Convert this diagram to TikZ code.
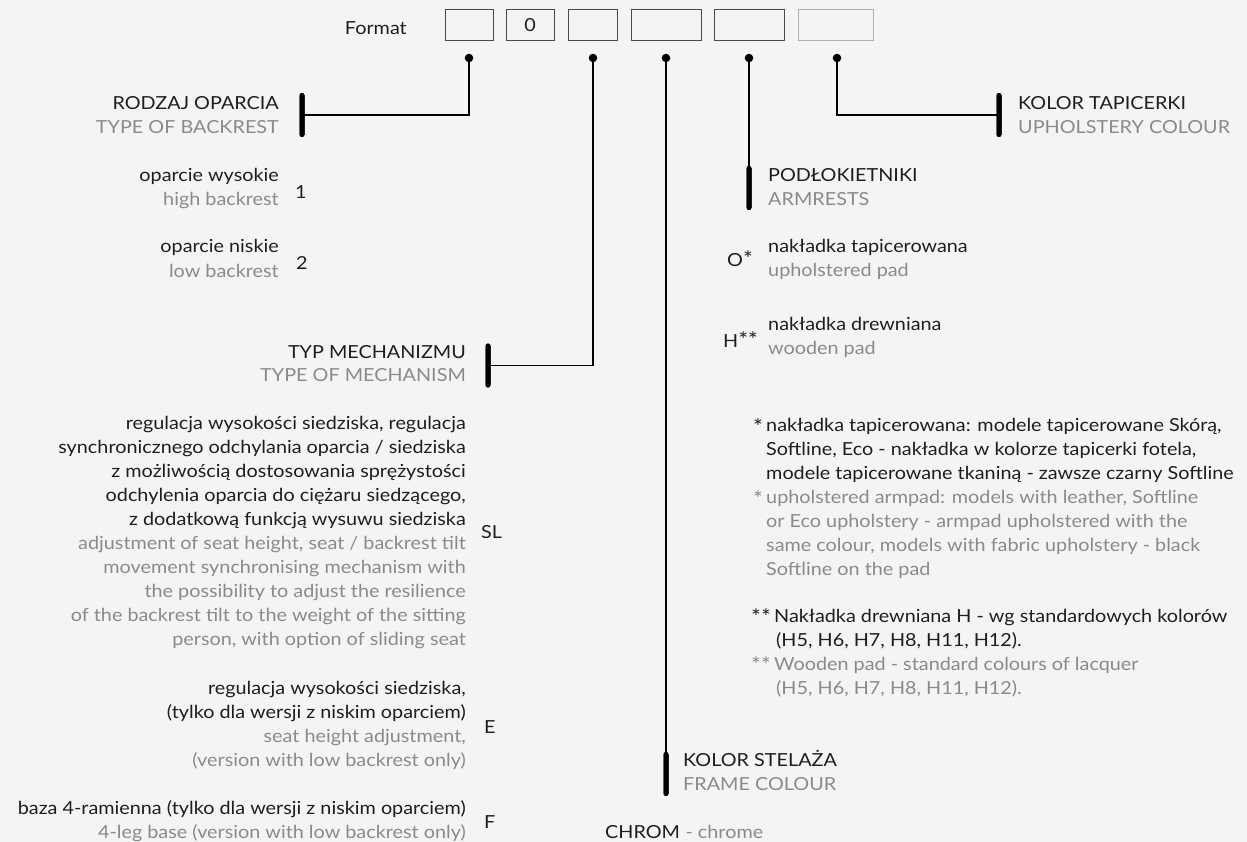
\documentclass[tikz,border=0pt]{standalone}
\usepackage{fontspec}
\setmainfont{Lato}[FakeStretch=1.1]
\definecolor{bgc}{HTML}{F3F5F4}
\definecolor{txtblack}{HTML}{1E1E1E}
\definecolor{txtgray}{HTML}{8A8A8A}
\definecolor{boxgray}{HTML}{4A4A4A}
\definecolor{boxlight}{HTML}{AFAFAF}
\newcommand{\fs}{\fontsize{18}{24}\selectfont}
\newcommand{\bigast}{{\fontsize{21}{24}\selectfont *}}
\begin{document}
\begin{tikzpicture}[x=1pt,y=-1pt,
  blk/.style={text=txtblack, inner sep=0pt, font=\fs},
  gry/.style={text=txtgray, inner sep=0pt, font=\fs},
  barnode/.style={fill=black, rounded corners=2.5pt, minimum width=5pt, minimum height=44pt, inner sep=0pt},
  conn/.style={line width=1.2pt, black},
  dotc/.style={circle, fill=black, inner sep=0pt, minimum size=8.5pt},
  cell/.style={draw=boxgray, line width=1pt, minimum height=31pt, inner sep=0pt, font=\fs, text=txtblack},
  rl/.style={anchor=base east},
  ll/.style={anchor=base west}]
\fill[bgc] (0,0) rectangle (1247,842);
\useasboundingbox (0,0) rectangle (1247,842);

% ---- format row
\node[blk, rl] (fmt) at (407,35) {Format};
\node[cell, minimum width=48pt] (b1) at (469,25.5) {};
\node[cell, minimum width=48pt] (b2) at (530,25.5) {0};
\node[cell, minimum width=49pt] (b3) at (592.5,25.5) {};
\node[cell, minimum width=70pt] (b4) at (666,25.5) {};
\node[cell, minimum width=70pt] (b5) at (749,25.5) {};
\node[cell, minimum width=75pt, draw=boxlight] (b6) at (836,25.5) {};

\node[dotc] (d1) at (469,58) {};
\node[dotc] (d3) at (593,58) {};
\node[dotc] (d4) at (666,58) {};
\node[dotc] (d5) at (749,58) {};
\node[dotc] (d6) at (837,58) {};

% ---- bars
\node[barnode] (bar1) at (302,115) {};
\node[barnode] (bar2) at (488,365.5) {};
\node[barnode] (bar3) at (666,774) {};
\node[barnode] (bar4) at (749,188) {};
\node[barnode] (bar5) at (999,115) {};

% ---- connectors
\draw[conn] (d1.center) |- (bar1.center);
\draw[conn] (d3.center) |- (bar2.center);
\draw[conn] (d4.center) -- (bar3.center);
\draw[conn] (d5.center) -- (bar4.center);
\draw[conn] (d6.center) |- (bar5.center);
\node[barnode] at (bar1) {};
\node[barnode] at (bar2) {};
\node[barnode] at (bar3) {};
\node[barnode] at (bar4) {};
\node[barnode] at (bar5) {};

% ---- type of backrest
\node[blk, rl] (ro1) at (279,110) {RODZAJ OPARCIA};
\node[gry, rl] (ro2) at (279,133.5) {TYPE OF BACKREST};
\node[blk, rl] (hb1) at (279,182) {oparcie wysokie};
\node[gry, rl] (hb2) at (279,205.5) {high backrest};
\node[blk, anchor=west] (c1) at (295,192) {1};
\node[blk, rl] (lb1) at (279,253) {oparcie niskie};
\node[gry, rl] (lb2) at (279,277) {low backrest};
\node[blk, anchor=west] (c2) at (296,263) {2};

% ---- mechanism
\node[blk, rl] (me1) at (466,358) {TYP MECHANIZMU};
\node[gry, rl] (me2) at (466,381.5) {TYPE OF MECHANISM};
\foreach \t [count=\i from 0] in {{regulacja wysokości siedziska, regulacja},{synchronicznego odchylania oparcia / siedziska},{z możliwością dostosowania sprężystości},{odchylenia oparcia do ciężaru siedzącego,},{z dodatkową funkcją wysuwu siedziska}}
  \node[blk, rl] (slp\i) at (466,429.5+24*\i) {\t};
\foreach \t [count=\i from 0] in {{adjustment of seat height, seat / backrest tilt},{movement synchronising mechanism with},{the possibility to adjust the resilience},{of the backrest tilt to the weight of the sitting},{person, with option of sliding seat}}
  \node[gry, rl] (sle\i) at (466,549.5+24*\i) {\t};
\node[blk, anchor=west] (cSL) at (481,532) {SL};

\node[blk, rl] (e1) at (466,694) {regulacja wysokości siedziska,};
\node[blk, rl] (e2) at (466,718) {(tylko dla wersji z niskim oparciem)};
\node[gry, rl] (e3) at (466,742) {seat height adjustment,};
\node[gry, rl] (e4) at (466,766) {(version with low backrest only)};
\node[blk, anchor=west] (cE) at (484,727) {E};

\node[blk, rl] (f1) at (466,814) {baza 4-ramienna (tylko dla wersji z niskim oparciem)};
\node[gry, rl] (f2) at (466,838) {4-leg base (version with low backrest only)};
\node[blk, anchor=west] (cF) at (484,822) {F};

% ---- upholstery colour
\node[blk, ll] (up1) at (1018,110) {KOLOR TAPICERKI};
\node[gry, ll] (up2) at (1018,133.5) {UPHOLSTERY COLOUR};

% ---- armrests
\node[blk, ll] (ar1) at (768,182) {PODŁOKIETNIKI};
\node[gry, ll] (ar2) at (768,205.5) {ARMRESTS};
\node[blk, ll] (o1) at (768,252.5) {nakładka tapicerowana};
\node[gry, ll] (o2) at (768,276.5) {upholstered pad};
\node[blk, ll] (cO) at (727,266) {O\bigast};
\node[blk, ll] (h1) at (768,330) {nakładka drewniana};
\node[gry, ll] (h2) at (768,354) {wooden pad};
\node[blk, ll] (cH) at (723,347) {H\bigast\bigast};

\node[blk, ll] (s1) at (753,434) {\bigast};
\foreach \t [count=\i from 0] in {{nakładka tapicerowana: modele tapicerowane Skórą,},{Softline, Eco - nakładka w kolorze tapicerki fotela,},{modele tapicerowane tkaniną - zawsze czarny Softline}}
  \node[blk, ll] (fa\i) at (766,431.5+24*\i) {\t};
\node[gry, ll] (s2) at (753,506) {\bigast};
\foreach \t [count=\i from 0] in {{upholstered armpad: models with leather, Softline},{or Eco upholstery - armpad upholstered with the},{same colour, models with fabric upholstery - black},{Softline on the pad}}
  \node[gry, ll] (fb\i) at (766,503.5+24*\i) {\t};

\node[blk, ll] (s3) at (751,624.5) {\bigast\bigast};
\node[blk, ll] (fc0) at (774,622) {Nakładka drewniana H - wg standardowych kolorów};
\node[blk, ll] (fc1) at (776,646.5) {(H5, H6, H7, H8, H11, H12).};
\node[gry, ll] (s4) at (751,672.5) {\bigast\bigast};
\node[gry, ll] (fd0) at (774,670) {Wooden pad - standard colours of lacquer};
\node[gry, ll] (fd1) at (776,694.5) {(H5, H6, H7, H8, H11, H12).};

% ---- frame colour
\node[blk, ll] (fr1) at (683,766.5) {KOLOR STELAŻA};
\node[gry, ll] (fr2) at (683,790) {FRAME COLOUR};
\node[blk, ll] (ch1) at (605,838) {CHROM};
\node[gry, ll] (ch2) at (ch1.base east) {\ -\ chrome};
\end{tikzpicture}
\end{document}
